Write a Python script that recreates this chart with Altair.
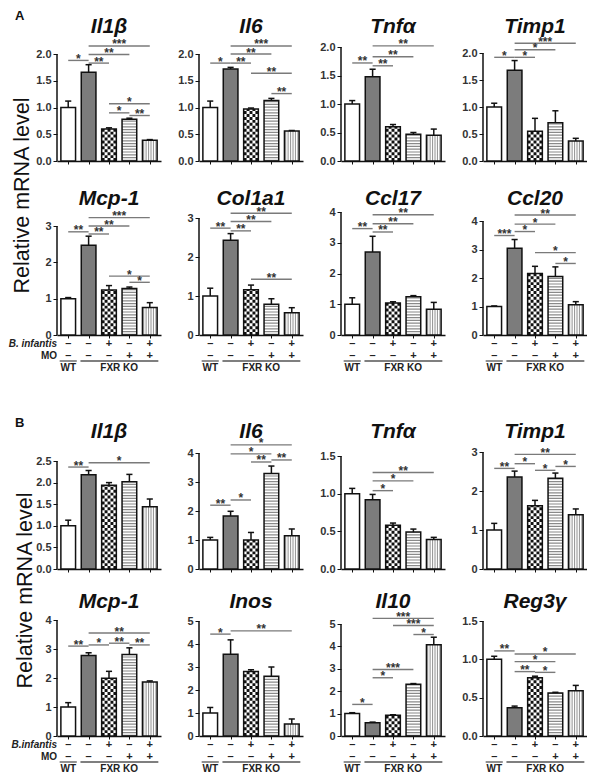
import altair as alt
import pandas as pd

FONT = "Liberation Sans"

# ---------------- data ----------------
GROUPS = [0, 1, 2, 3, 4]
FILL_COLORS = ["#ffffff", "#7c7c7c", "#ffffff", "#ffffff", "#ffffff"]
INFANTIS = ["–", "–", "+", "–", "+"]
MO = ["–", "–", "–", "+", "+"]
GROUP_NAMES = ["WT", "FXR KO"]
Y_TITLE = "Relative mRNA level"

GENES_A = ["Il1β", "Il6", "Tnfα", "Timp1", "Mcp-1", "Col1a1", "Ccl17", "Ccl20"]
MEAN_A = [
    [1.00, 1.66, 0.60, 0.78, 0.39],
    [1.00, 1.72, 0.97, 1.13, 0.56],
    [1.00, 1.48, 0.60, 0.47, 0.45],
    [1.00, 1.68, 0.55, 0.71, 0.37],
    [1.00, 2.47, 1.24, 1.28, 0.76],
    [1.00, 2.43, 1.16, 0.79, 0.57],
    [1.00, 2.70, 1.04, 1.24, 0.84],
    [1.00, 3.04, 2.16, 2.05, 1.06],
]
SEM_A = [
    [0.12, 0.14, 0.02, 0.02, 0.01],
    [0.12, 0.03, 0.02, 0.04, 0.01],
    [0.06, 0.13, 0.04, 0.03, 0.11],
    [0.07, 0.18, 0.24, 0.22, 0.05],
    [0.03, 0.25, 0.12, 0.04, 0.13],
    [0.20, 0.17, 0.12, 0.14, 0.13],
    [0.21, 0.51, 0.04, 0.04, 0.22],
    [0.02, 0.31, 0.25, 0.34, 0.11],
]
YMAX_A = [2, 2, 2, 2, 3, 3, 4, 4]
YSTEP_A = [0.5, 0.5, 0.5, 0.5, 1, 1, 1, 1]
SIG_A = [
    [(0, 1, 1.88, "*"), (1, 2, 1.83, "**"), (1, 3, 1.99, "**"), (1, 4, 2.15, "***"),
     (2, 4, 1.07, "*"), (2, 3, 0.90, "*"), (3, 4, 0.85, "**")],
    [(0, 1, 1.83, "*"), (1, 2, 1.83, "**"), (1, 3, 2.00, "**"), (1, 4, 2.15, "***"),
     (2, 4, 1.64, "**"), (3, 4, 1.26, "**")],
    [(0, 1, 1.72, "**"), (1, 2, 1.67, "**"), (1, 3, 1.83, "**"), (1, 4, 2.02, "**")],
    [(0, 1, 1.92, "*"), (1, 2, 1.92, "*"), (1, 3, 2.06, "*"), (1, 4, 2.18, "***")],
    [(0, 1, 2.84, "**"), (1, 2, 2.78, "**"), (1, 3, 3.00, "**"), (1, 4, 3.23, "***"),
     (2, 4, 1.62, "*"), (3, 4, 1.45, "*")],
    [(0, 1, 2.74, "**"), (1, 2, 2.67, "**"), (1, 3, 2.91, "**"), (1, 4, 3.12, "**"),
     (2, 4, 1.43, "**")],
    [(0, 1, 3.46, "**"), (1, 2, 3.35, "**"), (1, 3, 3.62, "**"), (1, 4, 3.91, "**")],
    [(0, 1, 3.49, "***"), (1, 2, 3.63, "*"), (1, 3, 3.89, "*"), (1, 4, 4.21, "**"),
     (2, 4, 2.89, "*"), (3, 4, 2.51, "*")],
]

GENES_B = ["Il1β", "Il6", "Tnfα", "Timp1", "Mcp-1", "Inos", "Il10", "Reg3γ"]
MEAN_B = [
    [1.00, 2.18, 1.94, 2.02, 1.44],
    [1.00, 1.83, 1.00, 3.29, 1.15],
    [1.00, 0.92, 0.58, 0.49, 0.39],
    [1.00, 2.36, 1.62, 2.33, 1.39],
    [1.00, 2.78, 1.99, 2.81, 1.86],
    [1.00, 3.55, 2.80, 2.60, 0.52],
    [1.00, 0.59, 0.93, 2.31, 4.07],
    [1.00, 0.37, 0.76, 0.56, 0.59],
]
SEM_B = [
    [0.13, 0.10, 0.06, 0.17, 0.18],
    [0.09, 0.16, 0.26, 0.26, 0.23],
    [0.07, 0.07, 0.03, 0.04, 0.03],
    [0.17, 0.15, 0.14, 0.13, 0.15],
    [0.15, 0.09, 0.24, 0.23, 0.04],
    [0.24, 0.63, 0.08, 0.40, 0.22],
    [0.04, 0.03, 0.02, 0.03, 0.34],
    [0.04, 0.02, 0.02, 0.01, 0.07],
]
YMAX_B = [2.5, 4, 1.5, 3, 4, 5, 5, 1.5]
YSTEP_B = [0.5, 1, 0.5, 1, 1, 1, 1, 0.5]
SIG_B = [
    [(0, 1, 2.36, "**"), (1, 4, 2.46, "*")],
    [(0, 1, 2.20, "**"), (1, 2, 2.38, "*"), (2, 3, 3.69, "**"), (3, 4, 3.76, "**"),
     (1, 3, 3.97, "*"), (1, 4, 4.28, "*")],
    [(1, 2, 1.04, "*"), (1, 3, 1.17, "*"), (1, 4, 1.28, "**")],
    [(0, 1, 2.58, "**"), (1, 2, 2.70, "*"), (1, 4, 2.94, "**"), (2, 3, 2.53, "*"),
     (3, 4, 2.63, "*")],
    [(0, 1, 3.10, "**"), (1, 2, 3.14, "*"), (2, 3, 3.20, "**"), (3, 4, 3.14, "**"),
     (1, 4, 3.55, "**")],
    [(0, 1, 4.43, "*"), (1, 4, 4.57, "**")],
    [(0, 1, 1.41, "*"), (1, 2, 2.60, "*"), (1, 3, 2.97, "***"), (1, 4, 5.25, "***"),
     (2, 4, 4.93, "***"), (3, 4, 4.53, "*")],
    [(0, 1, 1.11, "**"), (1, 4, 1.07, "*"), (1, 3, 0.97, "*"), (1, 2, 0.84, "**"),
     (2, 3, 0.83, "*")],
]

# ---------------- styling / geometry ----------------
# pixel length of each panel's y axis (0 .. top tick)
AXPX_A = [107, 107, 114, 108, 109, 117, 123, 114]
AXPX_B = [108, 116, 113, 117, 116, 115, 112, 115]

W = 104
XDOM = [-0.55, 4.55]
HALF = 0.36
BAR_PX = 2 * HALF * W / (XDOM[1] - XDOM[0])
NCELL = 5
CELL = 2 * HALF / NCELL
CELL_PX = BAR_PX / NCELL
NSTRIPE = 6
INK = "#111111"


def xq(field):
    return alt.X(field, type="quantitative",
                 scale=alt.Scale(domain=XDOM, nice=False, zero=False),
                 axis=alt.Axis(values=GROUPS, labels=False, title=None, grid=False,
                               tickSize=3, domainWidth=1.5, tickWidth=1))


def yq(field, ymax, step, dtop):
    n = int(round(ymax / step))
    ticks = [round(i * step, 2) for i in range(n + 1)]
    fmt = ".1f" if step < 1 else "d"
    return alt.Y(field, type="quantitative",
                 scale=alt.Scale(domain=[0, dtop], nice=False, zero=True),
                 axis=alt.Axis(values=ticks, format=fmt, title=None, grid=False,
                               domain=False, tickSize=4, labelPadding=2))


def panel(title, means, sems, ymax, step, sig, h, axpx, tbase, bottom=False, first=False,
          inf_label="B. infantis", sec_label=None, sec_base=-30):
    dtop = ymax * h / axpx
    Y = lambda f: yq(f, ymax, step, dtop)
    df = pd.DataFrame({"g": GROUPS, "mean": means, "sem": sems, "fill": FILL_COLORS})
    df["x0"] = df["g"] - HALF
    df["x1"] = df["g"] + HALF
    df["top"] = df["mean"] + df["sem"]
    df["c0"] = df["g"] - 0.15
    df["c1"] = df["g"] + 0.15
    df["zero"] = 0.0
    base = alt.Chart(df)

    layers = []
    layers.append(base.mark_rect().encode(
        x=xq("x0"), x2="x1", y=Y("mean"), y2="zero",
        color=alt.Color("fill:N", scale=None)))

    # y axis line (0 .. top tick)
    ax = pd.DataFrame({"zero": [0.0], "ymx": [ymax]})
    layers.append(alt.Chart(ax).mark_rule(color=INK, strokeWidth=1.5).encode(
        x=alt.value(0), y=Y("zero"), y2="ymx"))

    # checkered bar (group 2)
    ck = pd.DataFrame({"c": list(range(NCELL))})
    ck["cx"] = 2 - HALF + (ck["c"] + 0.5) * CELL
    ck["mean"] = means[2]
    ck["zero"] = 0.0
    for par in (0, 1):
        sub = ck[ck["c"] % 2 == par]
        layers.append(alt.Chart(sub).mark_rule(
            color=INK, strokeWidth=CELL_PX, strokeDash=[CELL_PX, CELL_PX],
            strokeDashOffset=CELL_PX * par).encode(
            x=xq("cx"), y=Y("zero"), y2="mean"))

    # horizontal stripes (group 3)
    hs = df[df["g"] == 3]
    layers.append(alt.Chart(hs).mark_rule(
        color="#8a8a8a", strokeWidth=BAR_PX, strokeDash=[1.2, 1.6]).encode(
        x=xq("g"), y=Y("zero"), y2="mean"))

    # vertical stripes (group 4)
    vs = pd.DataFrame({"k": list(range(NSTRIPE))})
    vs["sx"] = 4 - HALF + (vs["k"] + 0.5) * (2 * HALF / NSTRIPE)
    vs["mean"] = means[4]
    vs["zero"] = 0.0
    layers.append(alt.Chart(vs).mark_rule(color="#9a9a9a", strokeWidth=1.1).encode(
        x=xq("sx"), y=Y("zero"), y2="mean"))

    # outlines
    layers.append(base.mark_rect(fillOpacity=0, stroke=INK, strokeWidth=1.5).encode(
        x=xq("x0"), x2="x1", y=Y("mean"), y2="zero"))

    # error bars
    layers.append(base.mark_rule(color=INK, strokeWidth=1.5).encode(
        x=xq("g"), y=Y("mean"), y2="top"))
    layers.append(base.mark_rule(color=INK, strokeWidth=1.5).encode(
        x=xq("c0"), x2="c1", y=Y("top")))

    # significance brackets
    sdf = pd.DataFrame(sig, columns=["a", "b", "yy", "lab"])
    sdf["mid"] = (sdf["a"] + sdf["b"]) / 2
    layers.append(alt.Chart(sdf).mark_rule(color="#7a7a7a", strokeWidth=1.4).encode(
        x=xq("a"), x2="b", y=Y("yy")))
    layers.append(alt.Chart(sdf).mark_text(
        font=FONT, fontSize=12, fontWeight="bold", color="#333333",
        baseline="alphabetic", dy=2.5).encode(
        x=xq("mid"), y=Y("yy"), text="lab:N"))

    # gene name above the panel
    tt = pd.DataFrame({"t": [title]})
    layers.append(alt.Chart(tt).mark_text(
        font=FONT, fontSize=21, fontStyle="italic", fontWeight="bold", color=INK,
        align="center", baseline="alphabetic").encode(
        x=alt.value(W / 2), y=alt.value(tbase), text="t:N"))

    if sec_label is not None:
        sl = pd.DataFrame({"t": [sec_label]})
        layers.append(alt.Chart(sl).mark_text(
            font=FONT, fontSize=13, fontWeight="bold", color=INK,
            align="left", baseline="alphabetic").encode(
            x=alt.value(-42), y=alt.value(sec_base), text="t:N"))

    if bottom:
        lab = pd.DataFrame({"g": GROUPS, "inf": INFANTIS, "mo": MO})
        layers.append(alt.Chart(lab).mark_text(
            font=FONT, fontSize=11, fontWeight="bold", color="#222222").encode(
            x=xq("g"), y=alt.value(h + 9), text="inf:N"))
        layers.append(alt.Chart(lab).mark_text(
            font=FONT, fontSize=11, fontWeight="bold", color="#222222").encode(
            x=xq("g"), y=alt.value(h + 21), text="mo:N"))
        grp = pd.DataFrame({"name": GROUP_NAMES, "s": [-0.42, 0.6], "e": [0.42, 4.42],
                            "mid": [0, 2.5]})
        layers.append(alt.Chart(grp).mark_rule(color="#555555", strokeWidth=1.3).encode(
            x=xq("s"), x2="e", y=alt.value(h + 26)))
        layers.append(alt.Chart(grp).mark_text(
            font=FONT, fontSize=10, fontWeight="bold", color="#222222").encode(
            x=xq("mid"), y=alt.value(h + 33), text="name:N"))
        if first:
            r1 = pd.DataFrame({"lab": [inf_label], "xx": [-0.55]})
            r2 = pd.DataFrame({"lab": ["MO"], "xx": [-0.55]})
            layers.append(alt.Chart(r1).mark_text(
                font=FONT, fontSize=10, fontWeight="bold", fontStyle="italic",
                color="#222222", align="right").encode(
                x=xq("xx"), y=alt.value(h + 9), text="lab:N"))
            layers.append(alt.Chart(r2).mark_text(
                font=FONT, fontSize=10, fontWeight="bold", color="#222222",
                align="right").encode(
                x=xq("xx"), y=alt.value(h + 21), text="lab:N"))

    return alt.layer(*layers).properties(width=W, height=h)


def section(genes, means, sems, ymax, ystep, sigs, axpx, tb1, tb2, label,
            inf_label, rowsp, tdx, sec_base):
    h1 = max(axpx[:4])
    h2 = max(axpx[4:])
    panels = []
    for i in range(8):
        h = h1 if i < 4 else h2
        tb = tb1 if i < 4 else tb2
        panels.append(panel(genes[i], means[i], sems[i], ymax[i], ystep[i], sigs[i], h,
                            axpx[i], tb, bottom=(i >= 4), first=(i == 4),
                            inf_label=inf_label,
                            sec_label=(label if i == 0 else None), sec_base=sec_base))
    return alt.concat(*panels, columns=4, bounds="flush",
                      spacing={"row": rowsp, "column": 38},
                      title=alt.TitleParams(Y_TITLE, orient="left",
                                            anchor="middle", font=FONT, fontSize=21.5,
                                            fontWeight="normal", color=INK,
                                            offset=-25, dx=tdx))


secA = section(GENES_A, MEAN_A, SEM_A, YMAX_A, YSTEP_A, SIG_A, AXPX_A, -14, -7, "A",
               "B. infantis", 51, -4, -27)
secB = section(GENES_B, MEAN_B, SEM_B, YMAX_B, YSTEP_B, SIG_B, AXPX_B, -14, -12, "B",
               "B.infantis", 51, 5, -25)

chart = alt.vconcat(secA, secB, spacing=44).properties(
    padding={"left": 0, "top": 2, "right": 0, "bottom": 0}
).configure_view(stroke=None).configure_axis(
    labelFont=FONT, labelFontSize=11, labelFontWeight="bold", labelColor="#333333",
    domainColor=INK, tickColor=INK, domainWidth=1.5)

chart.save("out.html", embed_options={"renderer": "svg", "actions": False})
